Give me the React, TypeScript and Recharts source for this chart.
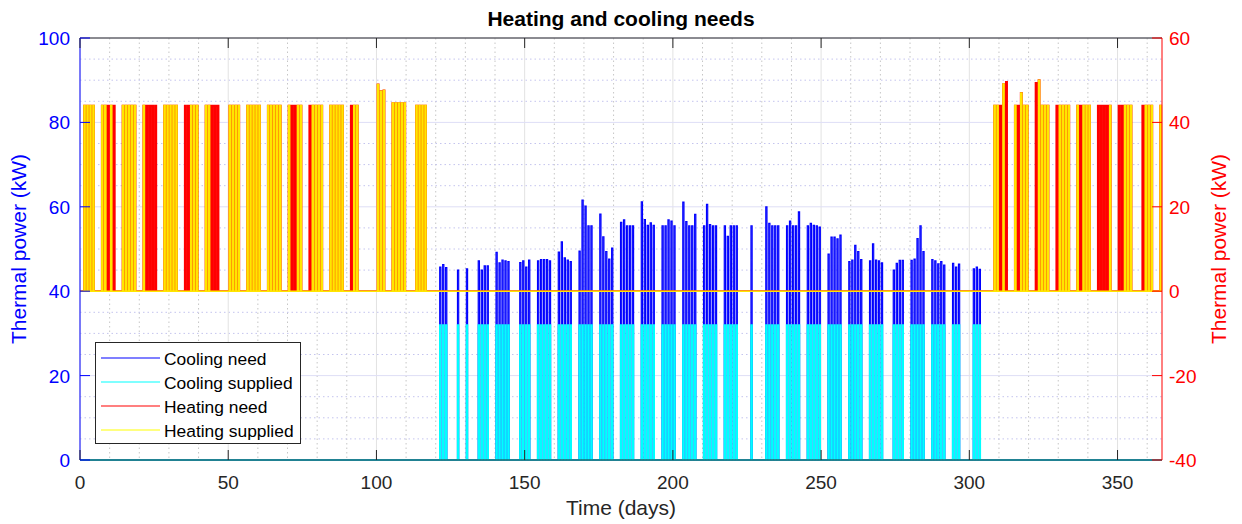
import React from "react";
import { LineChart, Line, XAxis, YAxis, CartesianGrid, ReferenceLine, Legend } from "recharts";

// Occupied hours: heating/cooling run from 08:00 to 18:00 on working days
const ON = 8 / 24;
const OFF = 18 / 24;
const YEAR = 365;

const FONT = "'Liberation Sans', Arial, Helvetica, sans-serif";
const PLOT_TOP = 38;

const xTicks = [0, 50, 100, 150, 200, 250, 300, 350];
const leftTicks = [0, 20, 40, 60, 80, 100];
const rightTicks = [-40, -20, 0, 20, 40, 60];

// Cooling season: working days and their peak cooling need (kW)
const coolingDays = [
  121, 122, 123, 127, 130,
  134, 135, 136, 137,
  140, 141, 142, 143, 144,
  148, 149, 150, 151,
  154, 155, 156, 157, 158,
  161, 162, 163, 164, 165,
  168, 169, 170, 171, 172,
  175, 176, 177, 178, 179,
  182, 183, 184, 185, 186,
  189, 190, 191, 192, 193,
  196, 197, 198, 199, 200,
  203, 204, 205, 206, 207,
  210, 211, 212, 213, 214,
  217, 218, 219, 220, 221,
  226,
  231, 232, 233, 234, 235,
  238, 239, 240, 241, 242,
  245, 246, 247, 248, 249,
  252, 253, 254, 255, 256,
  259, 260, 261, 262, 263,
  266, 267, 268, 269, 270,
  274, 275, 276, 277,
  280, 281, 282, 283, 284,
  287, 288, 289, 290, 291,
  294, 295, 296,
  301, 302, 303,
];
const coolingNeed = [
  45.7, 46.3, 45.6, 45.0, 45.3,
  47.2, 45.0, 46.0, 46.0,
  49.2, 46.7, 47.4, 47.2, 47.0,
  46.8, 47.2, 45.7, 47.4,
  47.2, 47.5, 47.5, 47.5, 47.2,
  49.3, 51.7, 47.9, 47.4, 47.0,
  49.5, 61.6, 60.2, 55.5, 55.5,
  58.3, 52.9, 49.4, 47.6, 50.2,
  56.3, 56.9, 55.5, 55.5, 55.5,
  61.2, 57.0, 55.6, 56.2, 55.6,
  55.5, 55.5, 56.9, 56.6, 55.5,
  61.1, 56.5, 55.5, 55.5, 58.2,
  55.5, 60.6, 55.8, 55.5, 55.5,
  55.5, 53.0, 55.5, 55.5, 55.5,
  55.5,
  60.0, 56.1, 55.5, 55.5, 55.5,
  55.5, 56.6, 55.5, 55.5, 58.8,
  55.5, 56.1, 55.6, 55.5, 55.2,
  48.8, 52.8, 52.8, 52.4, 53.3,
  47.0, 47.4, 50.9, 49.4, 47.5,
  47.2, 51.2, 47.4, 47.2, 46.7,
  45.0, 46.6, 47.3, 47.3,
  47.3, 47.6, 52.5, 55.5, 49.4,
  47.5, 47.2, 46.5, 47.0, 46.2,
  46.6, 45.7, 46.4,
  45.3, 45.7, 45.2,
];
// Chiller output is limited to this value (kW)
const COOLING_CAPACITY = 32;

// Heating season: working days and their peak heating need (kW)
const heatingDays = [
  1, 2, 3, 4,
  7, 8, 9, 10, 11,
  14, 15, 16, 17, 18,
  21, 22, 23, 24, 25,
  28, 29, 30, 31, 32,
  35, 36, 37, 38, 39,
  42, 43, 44, 45, 46,
  50, 51, 52, 53,
  56, 57, 58, 59, 60,
  63, 64, 65, 66, 67,
  70, 71, 72, 73, 74,
  77, 78, 79, 80, 81,
  84, 85, 86, 87, 88,
  91, 92, 93,
  100, 101, 102,
  105, 106, 107, 108, 109,
  113, 114, 115, 116,
  308, 309, 310, 311, 312,
  315, 316, 317, 318, 319,
  322, 323, 324, 325, 326,
  329, 330, 331, 332, 333,
  336, 337, 338, 339, 340,
  343, 344, 345, 346, 347,
  350, 351, 352, 353, 354,
  358, 359, 360, 361,
  364,
];
const heatingNeed = [
  44, 44, 44, 44,
  44, 44, 44, 44, 44,
  44, 44, 44, 44, 44,
  44, 44, 44, 44, 44,
  44, 44, 44, 44, 44,
  44, 44, 44, 44, 44,
  44, 44, 44, 44, 44,
  44, 44, 44, 44,
  44, 44, 44, 44, 44,
  44, 44, 44, 44, 44,
  44, 44, 44, 44, 44,
  44, 44, 44, 44, 44,
  44, 44, 44, 44, 44,
  44, 44, 44,
  49.0, 47.4, 47.6,
  44.6, 44.6, 44.6, 44.6, 44.6,
  44, 44, 44, 44,
  44, 44, 44, 49.1, 49.6,
  44, 44, 47.0, 44, 44,
  49.4, 50.0, 44, 44, 44,
  44, 44, 44, 44, 44,
  44, 44, 44, 44, 44,
  44, 44, 44, 44, 44,
  44, 44, 44, 44, 44,
  44, 44, 44, 44,
  44,
];
// Days where the heating need was not covered by the boiler
const heatingUnsupplied = [
  9, 11, 22, 23, 24, 25, 35, 36, 44, 45, 46, 71, 72, 77, 91,
  310, 312, 316, 322, 329, 337, 343, 344, 345, 346, 350, 351, 358,
];

type Pt = { t: number; v: number };

// hourly-style profile: zero outside occupied hours, peak value inside
function dailyProfile(days: number[], peaks: number[]): Pt[] {
  const pts: Pt[] = [{ t: 0, v: 0 }];
  days.forEach((d, i) => {
    pts.push(
      { t: d + ON, v: 0 },
      { t: d + ON, v: peaks[i] },
      { t: d + OFF, v: peaks[i] },
      { t: d + OFF, v: 0 }
    );
  });
  pts.push({ t: YEAR, v: 0 });
  return pts;
}

const coolingNeedData = dailyProfile(coolingDays, coolingNeed);
const coolingSuppliedData = dailyProfile(
  coolingDays,
  coolingNeed.map((p) => Math.min(p, COOLING_CAPACITY))
);
const heatingNeedData = dailyProfile(heatingDays, heatingNeed);
const suppliedIdx = heatingDays
  .map((d, i) => i)
  .filter((i) => !heatingUnsupplied.includes(heatingDays[i]));
const heatingSuppliedData = dailyProfile(
  suppliedIdx.map((i) => heatingDays[i]),
  suppliedIdx.map((i) => heatingNeed[i])
);

const xMinor = Array.from({ length: 36 }, (_, i) => (i + 1) * 10).filter((v) => v % 50 !== 0);
const yMinor = Array.from({ length: 19 }, (_, i) => (i + 1) * 5).filter((v) => v % 20 !== 0);

const SERIES = [
  { name: "Cooling need", color: "#0000ff" },
  { name: "Cooling supplied", color: "#00ffff" },
  { name: "Heating need", color: "#ff0000" },
  { name: "Heating supplied", color: "#ffff00" },
];

const XTick = ({ x, y, payload }: any) => (
  <g>
    <line x1={x} x2={x} y1={y} y2={y - 10} stroke="#262626" />
    <line x1={x} x2={x} y1={PLOT_TOP} y2={PLOT_TOP + 10} stroke="#262626" />
    <text x={x} y={y + 29} textAnchor="middle" fontSize={19} fontFamily={FONT} fill="#262626">
      {payload.value}
    </text>
  </g>
);

const LeftTick = ({ x, y, payload }: any) => (
  <g>
    <line x1={x} x2={x + 10} y1={y} y2={y} stroke="#0000ff" />
    <text x={x - 10} y={y + 7} textAnchor="end" fontSize={19} fontFamily={FONT} fill="#0000ff">
      {payload.value}
    </text>
  </g>
);

const RightTick = ({ x, y, payload }: any) => (
  <g>
    <line x1={x} x2={x - 10} y1={y} y2={y} stroke="#ff0000" />
    <text x={x + 7} y={y + 7} textAnchor="start" fontSize={19} fontFamily={FONT} fill="#ff0000">
      {payload.value}
    </text>
  </g>
);

const LegendBox = () => (
  <svg width={206} height={102} style={{ display: "block" }}>
    <rect x={0.5} y={0.5} width={205} height={101} fill="#ffffff" stroke="#262626" />
    {SERIES.map((s, i) => {
      const cy = 16 + i * 24;
      return (
        <g key={s.name}>
          <line x1={6} x2={65} y1={cy} y2={cy} stroke={s.color} strokeWidth={1.2} />
          <text x={69} y={cy + 6.5} fontSize={17.4} fontFamily={FONT} fill="#000000">
            {s.name}
          </text>
        </g>
      );
    })}
  </svg>
);

export default function App() {
  return (
    <div
      style={{
        position: "absolute",
        left: 0,
        top: 0,
        width: 1242,
        height: 524,
        background: "#ffffff",
      }}
    >
      <div
        style={{
          position: "absolute",
          left: 0,
          width: 1242,
          top: 8,
          textAlign: "center",
          fontFamily: FONT,
          fontWeight: "bold",
          fontSize: 21,
          lineHeight: "21px",
          color: "#000000",
          zIndex: 2,
        }}
      >
        Heating and cooling needs
      </div>
      <LineChart width={1242} height={524} margin={{ top: PLOT_TOP, right: 0, bottom: 0, left: 0 }}>
        {/* minor grid: dotted, horizontal tinted like the left axis */}
        <CartesianGrid
          yAxisId="left"
          horizontal={false}
          verticalValues={xMinor}
          stroke="#c6c6c6"
          strokeDasharray="1.5 3"
        />
        <CartesianGrid
          yAxisId="left"
          vertical={false}
          horizontalValues={yMinor}
          stroke="#c4c4ee"
          strokeDasharray="1.5 3"
        />
        {/* major grid */}
        <CartesianGrid
          yAxisId="left"
          horizontal={false}
          verticalValues={xTicks}
          stroke="#e2e2e2"
        />
        <CartesianGrid
          yAxisId="left"
          vertical={false}
          horizontalValues={leftTicks}
          stroke="#dedef6"
        />
        <ReferenceLine yAxisId="left" y={100} stroke="#262626" />

        <Line
          data={coolingNeedData}
          yAxisId="left"
          dataKey="v"
          name="Cooling need"
          type="linear"
          stroke="#0000ff"
          strokeWidth={1.15}
          dot={false}
          activeDot={false}
          isAnimationActive={false}
        />
        <Line
          data={coolingSuppliedData}
          yAxisId="left"
          dataKey="v"
          name="Cooling supplied"
          type="linear"
          stroke="#00ffff"
          strokeWidth={1.3}
          dot={false}
          activeDot={false}
          isAnimationActive={false}
        />
        <Line
          data={heatingNeedData}
          yAxisId="right"
          dataKey="v"
          name="Heating need"
          type="linear"
          stroke="#ff0000"
          strokeWidth={1.7}
          dot={false}
          activeDot={false}
          isAnimationActive={false}
        />
        <Line
          data={heatingSuppliedData}
          yAxisId="right"
          dataKey="v"
          name="Heating supplied"
          type="linear"
          stroke="#ffff00"
          strokeOpacity={0.9}
          strokeWidth={1.4}
          dot={false}
          activeDot={false}
          isAnimationActive={false}
        />

        <XAxis
          dataKey="t"
          type="number"
          domain={[0, YEAR]}
          ticks={xTicks}
          height={64}
          tickSize={0}
          tickMargin={0}
          tickLine={false}
          axisLine={{ stroke: "#262626" }}
          tick={(p: any) => <XTick {...p} />}
          interval={0}
          label={{
            content: () => (
              <text x={621} y={515} textAnchor="middle" fontSize={21} fontFamily={FONT} fill="#262626">
                Time (days)
              </text>
            ),
          }}
        />
        <YAxis
          yAxisId="left"
          orientation="left"
          type="number"
          domain={[0, 100]}
          ticks={leftTicks}
          width={80}
          tickSize={0}
          tickMargin={0}
          tickLine={false}
          axisLine={{ stroke: "#0000ff" }}
          tick={(p: any) => <LeftTick {...p} />}
          interval={0}
          label={{
            content: () => (
              <text
                x={26}
                y={249}
                transform="rotate(-90 26 249)"
                textAnchor="middle"
                fontSize={21}
                fontFamily={FONT}
                fill="#0000ff"
              >
                Thermal power (kW)
              </text>
            ),
          }}
        />
        <YAxis
          yAxisId="right"
          orientation="right"
          type="number"
          domain={[-40, 60]}
          ticks={rightTicks}
          width={80}
          tickSize={0}
          tickMargin={0}
          tickLine={false}
          axisLine={{ stroke: "#ff0000" }}
          tick={(p: any) => <RightTick {...p} />}
          interval={0}
          label={{
            content: () => (
              <text
                x={1226}
                y={249}
                transform="rotate(-90 1226 249)"
                textAnchor="middle"
                fontSize={21}
                fontFamily={FONT}
                fill="#ff0000"
              >
                Thermal power (kW)
              </text>
            ),
          }}
        />
        <Legend
          layout="vertical"
          align="center"
          verticalAlign="middle"
          wrapperStyle={{ left: 95, top: 342, width: 206, height: 102 }}
          content={() => <LegendBox />}
        />
      </LineChart>
    </div>
  );
}
